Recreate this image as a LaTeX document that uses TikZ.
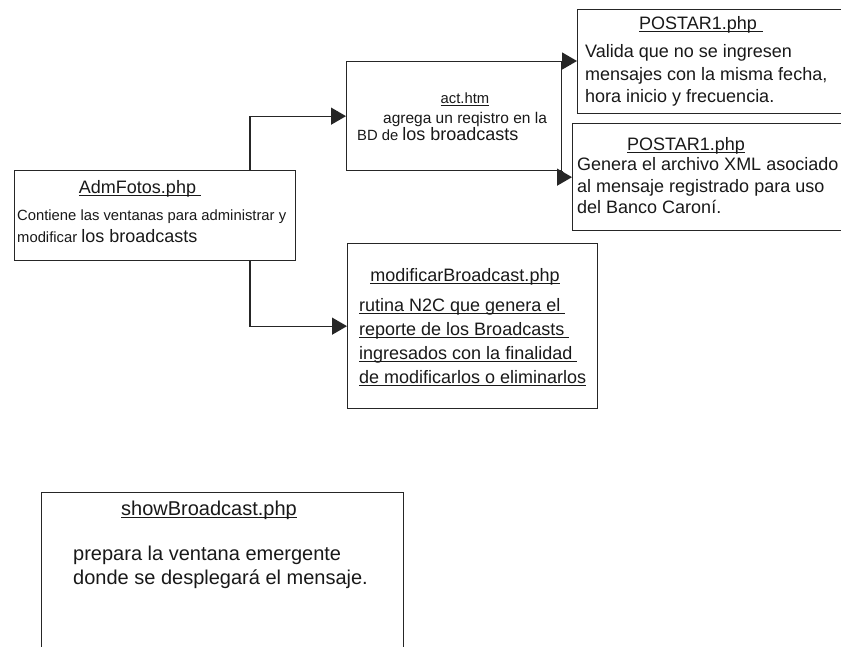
\documentclass[tikz,border=0pt]{standalone}
\usepackage{fontspec}
\setmainfont{Liberation Sans}
\usetikzlibrary{arrows.meta}
\newcommand\szL{\fontsize{18}{22}\selectfont}
\newcommand\szM{\fontsize{15.5}{18}\selectfont}
\newcommand\szS{\fontsize{14.8}{17}\selectfont}
\newcommand\szX{\fontsize{20}{24}\selectfont}
\newcommand\ulx[1]{\setbox0\hbox{#1}\rlap{\rule[-3.2pt]{\wd0}{1.1pt}}\box0}
\begin{document}
\begin{tikzpicture}[x=1pt,y=-1pt,
  box/.style={draw=black!85,line width=1.3pt,rectangle,anchor=north west,inner sep=0pt},
  txt/.style={anchor=base west,inner sep=0pt,text=black!90},
  ctxt/.style={anchor=base,inner sep=0pt,text=black!90},
  arr/.style={draw=black!85,line width=1.3pt,-{Triangle[length=15pt,width=17pt]}}]
\clip (0,0) rectangle (841,646);
\fill[white] (0,0) rectangle (841,646);
% boxes
\node[box,minimum width=281pt,minimum height=90pt] (adm) at (14,170) {};
\node[box,minimum width=215pt,minimum height=109pt] (act) at (346,61) {};
\node[box,minimum width=275pt,minimum height=104pt] (p1) at (577,9) {};
\node[box,minimum width=280pt,minimum height=107pt] (p2) at (572,123) {};
\node[box,minimum width=250pt,minimum height=165pt] (mod) at (347,243) {};
\node[box,minimum width=362pt,minimum height=170pt] (show) at (41,492) {};
% connectors
\draw[arr] ([xshift=236pt]adm.north west) |- (act.west);
\draw[arr] ([xshift=236pt]adm.south west) |- (mod.west);
\draw[arr] (act.north east) -- (act.north east -| p1.west);
\draw[arr] (act.south east) |- (p2.west);
% AdmFotos
\node[ctxt] (admt) at (140,193) {\szL\ulx{AdmFotos.php\hbox to 5pt{}}};
\node[txt] (adm1) at (17,220) {\szS Contiene las ventanas para administrar y};
\node[txt] (adm2) at (17,242) {\szS modificar {\szL los broadcasts}};
% act
\node[ctxt] (actt) at (465,103) {\szS\ulx{act.htm}};
\node[txt] (act1) at (383,123) {\szM agrega un reqistro en la};
\node[txt] (act2) at (357,140) {\szS BD de {\szL los broadcasts}};
% POSTAR1 top
\node[ctxt] (p1t) at (701,29) {\szL\ulx{POSTAR1.php\hbox to 6pt{}}};
\node[txt] (p1a) at (585,57) {\szL Valida que no se ingresen};
\node[txt] (p1b) at (585,80) {\szL mensajes con la misma fecha,};
\node[txt] (p1c) at (585,102) {\szL hora inicio y frecuencia.};
% POSTAR1 second
\node[ctxt] (p2t) at (686,150) {\szL\ulx{POSTAR1.php}};
\node[txt] (p2a) at (577,170) {\szL Genera el archivo XML asociado};
\node[txt] (p2b) at (577,192) {\szL al mensaje registrado para uso};
\node[txt] (p2c) at (577,213) {\szL del Banco Caroní.};
% modificarBroadcast
\node[ctxt] (modt) at (465,281) {\szL\ulx{modificarBroadcast.php}};
\node[txt] (moda) at (359,311) {\szL\ulx{rutina N2C que genera el\hbox to 5pt{}}};
\node[txt] (modb) at (359,335) {\szL\ulx{reporte de los Broadcasts\hbox to 5pt{}}};
\node[txt] (modc) at (359,359) {\szL\ulx{ingresados con la finalidad\hbox to 5pt{}}};
\node[txt] (modd) at (359,383) {\szL\ulx{de modificarlos o eliminarlos}};
% showBroadcast
\node[ctxt] (showt) at (209,515) {\szX\ulx{showBroadcast.php}};
\node[txt] (showa) at (73,560) {\szX prepara la ventana emergente};
\node[txt] (showb) at (73,584) {\szX donde se desplegará el mensaje.};
\end{tikzpicture}
\end{document}
